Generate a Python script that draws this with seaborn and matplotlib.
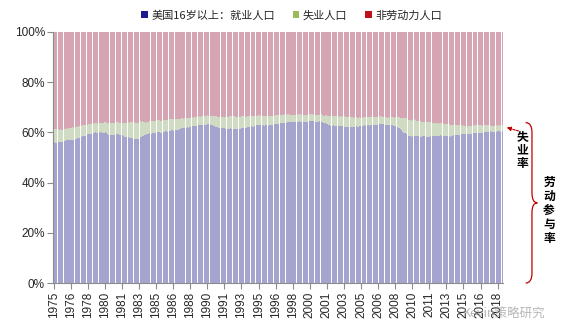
import numpy as np
import pandas as pd
import seaborn as sns
import matplotlib
matplotlib.use("Agg")
import matplotlib.pyplot as plt
from matplotlib.patches import Patch, PathPatch
from matplotlib.path import Path
from matplotlib.transforms import blended_transform_factory

# Monthly US civilian population 16+ : employment-population ratio (%), Jan 1975 - Nov 2018
employment_ratio = [
    56.0, 56.0, 55.9, 55.9, 56.0, 55.9, 56.1, 56.2, 56.2, 56.2, 56.2, 56.3,  # 1975
    56.4, 56.5, 56.7, 56.9, 56.8, 56.8, 56.9, 56.9, 56.8, 56.8, 56.9, 57.0,  # 1976
    57.0, 57.2, 57.4, 57.5, 57.6, 57.6, 57.6, 57.9, 58.0, 58.1, 58.5, 58.6,  # 1977
    58.6, 58.7, 58.8, 59.1, 59.2, 59.4, 59.3, 59.4, 59.5, 59.6, 59.8, 59.9,  # 1978
    59.9, 60.0, 59.9, 59.8, 59.9, 60.0, 60.0, 59.8, 60.0, 59.9, 59.9, 60.1,  # 1979
    59.9, 60.0, 59.7, 59.4, 59.1, 58.9, 58.9, 58.9, 58.9, 59.0, 59.0, 59.0,  # 1980
    59.1, 59.1, 59.3, 59.5, 59.5, 59.0, 59.1, 59.1, 58.7, 58.8, 58.6, 58.3,  # 1981
    58.2, 58.2, 58.1, 58.1, 58.2, 57.8, 57.9, 57.8, 57.6, 57.4, 57.3, 57.3,  # 1982
    57.2, 57.2, 57.3, 57.4, 57.4, 57.8, 58.1, 58.2, 58.4, 58.5, 58.8, 58.9,  # 1983
    59.1, 59.2, 59.2, 59.3, 59.6, 59.8, 59.5, 59.5, 59.7, 59.7, 59.8, 59.9,  # 1984
    60.0, 60.0, 60.2, 60.1, 60.0, 59.8, 59.9, 60.0, 60.2, 60.3, 60.3, 60.4,  # 1985
    60.6, 60.3, 60.5, 60.5, 60.5, 60.7, 60.8, 60.8, 60.7, 60.8, 60.9, 61.0,  # 1986
    61.0, 61.1, 61.1, 61.3, 61.6, 61.4, 61.6, 61.8, 61.6, 61.8, 61.8, 61.9,  # 1987
    61.9, 62.0, 61.9, 62.2, 62.0, 62.3, 62.3, 62.4, 62.4, 62.4, 62.6, 62.6,  # 1988
    62.9, 62.9, 62.9, 62.9, 62.9, 63.0, 63.0, 63.1, 62.9, 63.0, 63.0, 63.0,  # 1989
    63.2, 63.2, 63.2, 63.0, 63.1, 62.9, 62.8, 62.7, 62.5, 62.5, 62.3, 62.2,  # 1990
    62.0, 61.9, 61.8, 62.0, 61.7, 61.7, 61.6, 61.6, 61.7, 61.5, 61.5, 61.3,  # 1991
    61.5, 61.4, 61.5, 61.6, 61.5, 61.5, 61.6, 61.5, 61.4, 61.3, 61.4, 61.4,  # 1992
    61.4, 61.4, 61.5, 61.5, 61.6, 61.7, 61.8, 61.9, 61.7, 61.8, 61.9, 62.1,  # 1993
    62.2, 62.2, 62.1, 62.3, 62.5, 62.3, 62.3, 62.6, 62.7, 62.9, 63.1, 63.1,  # 1994
    63.0, 63.0, 63.1, 63.0, 62.7, 62.7, 62.8, 62.7, 62.9, 62.9, 62.8, 62.7,  # 1995
    62.7, 62.9, 62.9, 63.0, 63.0, 63.2, 63.3, 63.4, 63.4, 63.5, 63.4, 63.4,  # 1996
    63.4, 63.4, 63.6, 63.7, 63.8, 63.7, 63.9, 63.9, 63.9, 63.9, 64.1, 64.0,  # 1997
    64.0, 64.0, 63.9, 64.1, 64.1, 64.0, 64.0, 64.0, 64.2, 64.1, 64.2, 64.3,  # 1998
    64.4, 64.2, 64.2, 64.2, 64.3, 64.3, 64.2, 64.2, 64.2, 64.3, 64.4, 64.4,  # 1999
    64.6, 64.6, 64.6, 64.7, 64.4, 64.5, 64.2, 64.2, 64.2, 64.2, 64.3, 64.4,  # 2000
    64.4, 64.3, 64.3, 64.0, 63.8, 63.7, 63.7, 63.2, 63.5, 63.2, 63.0, 62.9,  # 2001
    62.7, 63.0, 62.8, 62.7, 62.9, 62.7, 62.7, 62.7, 63.0, 62.7, 62.5, 62.4,  # 2002
    62.5, 62.5, 62.4, 62.4, 62.3, 62.3, 62.1, 62.1, 62.0, 62.1, 62.3, 62.2,  # 2003
    62.3, 62.3, 62.2, 62.3, 62.3, 62.4, 62.5, 62.4, 62.3, 62.3, 62.5, 62.4,  # 2004
    62.4, 62.4, 62.4, 62.7, 62.8, 62.7, 62.8, 62.9, 62.8, 62.8, 62.7, 62.8,  # 2005
    62.9, 63.0, 63.1, 63.0, 63.1, 63.1, 63.0, 63.1, 63.1, 63.3, 63.3, 63.4,  # 2006
    63.3, 63.3, 63.3, 63.0, 63.0, 63.0, 62.9, 62.9, 62.9, 62.8, 62.9, 62.7,  # 2007
    62.9, 62.8, 62.7, 62.7, 62.5, 62.4, 62.2, 62.0, 61.9, 61.7, 61.4, 61.0,  # 2008
    60.6, 60.3, 59.9, 59.8, 59.6, 59.4, 59.3, 59.1, 58.7, 58.5, 58.6, 58.3,  # 2009
    58.5, 58.5, 58.5, 58.7, 58.6, 58.5, 58.5, 58.5, 58.5, 58.3, 58.3, 58.3,  # 2010
    58.4, 58.4, 58.4, 58.4, 58.4, 58.2, 58.2, 58.3, 58.3, 58.4, 58.5, 58.5,  # 2011
    58.4, 58.5, 58.5, 58.4, 58.5, 58.6, 58.5, 58.4, 58.7, 58.8, 58.7, 58.7,  # 2012
    58.6, 58.6, 58.5, 58.6, 58.6, 58.6, 58.7, 58.6, 58.6, 58.2, 58.6, 58.6,  # 2013
    58.8, 58.7, 58.8, 58.9, 58.9, 59.0, 59.0, 59.0, 59.1, 59.2, 59.2, 59.3,  # 2014
    59.3, 59.3, 59.3, 59.3, 59.4, 59.3, 59.3, 59.4, 59.2, 59.3, 59.4, 59.5,  # 2015
    59.6, 59.7, 59.8, 59.7, 59.7, 59.7, 59.8, 59.8, 59.8, 59.7, 59.7, 59.7,  # 2016
    59.9, 60.0, 60.1, 60.2, 60.0, 60.1, 60.2, 60.1, 60.4, 60.2, 60.1, 60.1,  # 2017
    60.1, 60.4, 60.4, 60.3, 60.4, 60.4, 60.5, 60.3, 60.4, 60.6, 60.6,        # 2018
]

# Monthly labor force participation rate (%), same months
participation_rate = [
    61.4, 61.3, 61.3, 61.3, 61.3, 61.0, 61.2, 61.1, 61.2, 61.1, 61.1, 61.2,  # 1975
    61.3, 61.2, 61.3, 61.6, 61.5, 61.6, 61.9, 61.9, 61.7, 61.8, 62.0, 61.9,  # 1976
    61.8, 62.0, 62.1, 62.2, 62.3, 62.4, 62.4, 62.4, 62.4, 62.4, 62.9, 62.8,  # 1977
    62.8, 62.9, 63.0, 63.1, 63.0, 63.3, 63.3, 63.3, 63.3, 63.3, 63.5, 63.5,  # 1978
    63.6, 63.8, 63.8, 63.5, 63.5, 63.6, 63.8, 63.8, 63.7, 63.7, 63.7, 63.9,  # 1979
    64.0, 64.0, 63.7, 63.8, 63.9, 63.7, 63.8, 63.7, 63.6, 63.7, 63.8, 63.6,  # 1980
    63.9, 63.9, 64.1, 64.2, 64.3, 63.7, 63.8, 63.8, 63.5, 63.8, 63.9, 63.6,  # 1981
    63.7, 63.8, 63.8, 63.9, 64.2, 63.9, 64.0, 64.1, 64.1, 64.1, 64.2, 64.1,  # 1982
    63.9, 63.8, 63.7, 63.8, 63.7, 64.3, 64.4, 64.3, 64.4, 64.0, 64.1, 64.1,  # 1983
    63.9, 64.1, 64.1, 64.3, 64.5, 64.6, 64.6, 64.4, 64.4, 64.4, 64.5, 64.6,  # 1984
    64.7, 64.7, 64.9, 64.9, 64.8, 64.6, 64.7, 64.6, 64.9, 65.0, 64.9, 65.0,  # 1985
    64.9, 65.0, 65.3, 65.3, 65.4, 65.4, 65.4, 65.3, 65.4, 65.4, 65.4, 65.3,  # 1986
    65.4, 65.5, 65.5, 65.4, 65.7, 65.5, 65.6, 65.9, 65.5, 65.7, 65.8, 65.7,  # 1987
    65.8, 65.9, 65.7, 65.8, 65.7, 65.8, 65.9, 66.1, 65.9, 66.0, 66.2, 66.1,  # 1988
    66.5, 66.3, 66.3, 66.4, 66.3, 66.5, 66.5, 66.5, 66.4, 66.5, 66.6, 66.5,  # 1989
    66.8, 66.7, 66.7, 66.6, 66.6, 66.4, 66.5, 66.5, 66.4, 66.4, 66.4, 66.4,  # 1990
    66.2, 66.2, 66.3, 66.4, 66.2, 66.2, 66.1, 66.0, 66.2, 66.1, 66.1, 66.0,  # 1991
    66.3, 66.2, 66.4, 66.5, 66.6, 66.7, 66.7, 66.6, 66.5, 66.2, 66.3, 66.3,  # 1992
    66.2, 66.2, 66.2, 66.1, 66.4, 66.5, 66.4, 66.4, 66.2, 66.3, 66.3, 66.4,  # 1993
    66.6, 66.6, 66.5, 66.5, 66.6, 66.4, 66.4, 66.6, 66.6, 66.7, 66.7, 66.7,  # 1994
    66.8, 66.8, 66.7, 66.9, 66.5, 66.5, 66.6, 66.6, 66.6, 66.6, 66.5, 66.4,  # 1995
    66.4, 66.6, 66.6, 66.7, 66.7, 66.7, 66.9, 66.7, 66.9, 67.0, 67.0, 67.0,  # 1996
    67.0, 66.9, 67.1, 67.1, 67.1, 67.1, 67.2, 67.1, 67.1, 67.1, 67.2, 67.2,  # 1997
    67.1, 67.1, 67.1, 67.0, 67.0, 67.0, 66.9, 67.0, 67.2, 67.1, 67.1, 67.2,  # 1998
    67.2, 67.2, 67.0, 67.1, 67.1, 67.1, 67.0, 67.0, 67.0, 67.0, 67.1, 67.1,  # 1999
    67.3, 67.3, 67.3, 67.3, 67.1, 67.1, 66.9, 66.9, 66.9, 66.8, 66.9, 67.0,  # 2000
    67.2, 67.1, 67.2, 66.9, 66.7, 66.7, 66.8, 66.5, 66.8, 66.7, 66.7, 66.7,  # 2001
    66.5, 66.8, 66.6, 66.7, 66.7, 66.6, 66.5, 66.6, 66.7, 66.6, 66.4, 66.3,  # 2002
    66.4, 66.4, 66.3, 66.4, 66.4, 66.5, 66.2, 66.1, 66.1, 66.1, 66.1, 65.9,  # 2003
    66.1, 66.0, 66.0, 65.9, 66.0, 66.1, 66.1, 66.0, 65.8, 65.9, 66.0, 65.9,  # 2004
    65.8, 65.9, 65.9, 66.1, 66.1, 66.1, 66.1, 66.2, 66.1, 66.1, 66.0, 66.0,  # 2005
    66.0, 66.1, 66.2, 66.1, 66.1, 66.2, 66.1, 66.2, 66.1, 66.2, 66.3, 66.4,  # 2006
    66.4, 66.3, 66.2, 65.9, 66.0, 66.0, 66.0, 65.8, 66.0, 65.8, 66.0, 66.0,  # 2007
    66.2, 66.0, 66.1, 65.9, 66.1, 66.1, 66.1, 66.1, 66.0, 66.0, 65.9, 65.8,  # 2008
    65.7, 65.8, 65.6, 65.7, 65.7, 65.7, 65.5, 65.4, 65.1, 65.0, 65.0, 64.6,  # 2009
    64.8, 64.9, 64.9, 65.2, 64.9, 64.6, 64.6, 64.7, 64.6, 64.4, 64.6, 64.3,  # 2010
    64.2, 64.1, 64.2, 64.2, 64.1, 64.0, 64.0, 64.1, 64.2, 64.1, 64.1, 64.0,  # 2011
    63.7, 63.8, 63.8, 63.7, 63.8, 63.8, 63.7, 63.5, 63.6, 63.8, 63.6, 63.7,  # 2012
    63.6, 63.4, 63.3, 63.4, 63.4, 63.4, 63.4, 63.3, 63.2, 62.8, 63.0, 62.9,  # 2013
    62.9, 62.9, 63.1, 62.8, 62.9, 62.8, 62.9, 62.9, 62.8, 62.9, 62.9, 62.7,  # 2014
    62.9, 62.7, 62.7, 62.7, 62.8, 62.6, 62.6, 62.6, 62.4, 62.5, 62.5, 62.7,  # 2015
    62.7, 62.8, 63.0, 62.8, 62.7, 62.7, 62.8, 62.8, 62.9, 62.8, 62.7, 62.7,  # 2016
    62.9, 62.9, 63.0, 62.9, 62.8, 62.8, 62.9, 62.9, 63.1, 62.7, 62.7, 62.7,  # 2017
    62.7, 63.0, 62.9, 62.8, 62.7, 62.9, 62.9, 62.7, 62.7, 62.9, 62.9,        # 2018
]

series_labels = ["美国16岁以上：就业人口", "失业人口", "非劳动力人口"]
legend_colors = ["#1F1A8A", "#9BBB59", "#C0101A"]
bar_colors = ["#A4A4CF", "#CFDCC3", "#D5A5B3"]

months = pd.date_range("1975-01-01", periods=len(employment_ratio), freq="MS")
df = pd.DataFrame({
    "pos": np.arange(len(months)),
    "employed": employment_ratio,
    "labor_force": participation_rate,
})
df["total"] = 100.0

sns.set_theme(style="white")
plt.rcParams["font.family"] = ["Liberation Sans", "Noto Sans CJK SC", "DejaVu Sans"]

fig = plt.figure(figsize=(5.66, 3.33), dpi=100)
ax = fig.add_axes([0.094, 0.150, 0.795, 0.754])

# Stacked 100% bars: full height (not in labor force), labor force (unemployed), employed
for col, color in zip(["total", "labor_force", "employed"], bar_colors[::-1]):
    sns.barplot(data=df, x="pos", y=col, color=color, saturation=1, width=0.85,
                linewidth=0, errorbar=None, ax=ax)

ax.set_ylim(0, 100)
ax.set_xlim(-0.5, len(df) - 0.5)
ax.set_yticks(np.arange(0, 101, 20))
ax.set_yticklabels([f"{v}%" for v in range(0, 101, 20)], fontsize=8.5)

tick_pos = np.arange(0, len(df), 20)
ax.set_xticks(tick_pos)
ax.set_xticklabels([str(months[i].year) for i in tick_pos], rotation=90, fontsize=8.5)
ax.set_xlabel("")
ax.set_ylabel("")

for side in ["top", "right"]:
    ax.spines[side].set_visible(False)
for side in ["left", "bottom"]:
    ax.spines[side].set_color("#8C8C8C")
    ax.spines[side].set_linewidth(0.8)
ax.tick_params(axis="both", which="major", length=4, width=0.8, color="#8C8C8C",
               direction="out", pad=2, left=True, bottom=True)

handles = [Patch(facecolor=c, edgecolor="none") for c in legend_colors]
fig.legend(handles, series_labels, loc="upper center", bbox_to_anchor=(0.515, 1.0),
           ncol=3, frameon=False, handlelength=0.6, handleheight=0.6,
           handletextpad=0.3, columnspacing=1.6,
           prop={"family": ["Noto Sans CJK SC", "DejaVu Sans"], "size": 8})

# Annotation: unemployment rate arrow and labor-force-participation brace
last_lf = participation_rate[-1]
last_emp = employment_ratio[-1]
trans = blended_transform_factory(ax.transAxes, ax.transData)
cjk_bold = {"family": ["Noto Sans CJK SC", "DejaVu Sans"], "weight": "bold"}

ax.annotate("", xy=(1.002, (last_lf + last_emp) / 2 + 0.5), xycoords=trans,
            xytext=(1.040, (last_lf + last_emp) / 2 - 1.5), textcoords=trans,
            arrowprops=dict(arrowstyle="-|>", color="#C00000", lw=0.8,
                            linestyle=(0, (2, 1)), mutation_scale=6))
ax.text(1.030, 53, "失\n业\n率", transform=trans, ha="left", va="center",
        fontsize=8.5, linespacing=1.05, color="black", **cjk_bold)

y1, y0 = last_lf + 1.0, 0.0
ym = (y0 + y1) / 2
d = 4.0
xl, xs, xt = 1.050, 1.064, 1.076
verts = [
    (xl, y1), (xs, y1), (xs, y1 - d),
    (xs, ym + d),
    (xs, ym), (xt, ym),
    (xs, ym), (xs, ym - d),
    (xs, y0 + d),
    (xs, y0), (xl, y0),
]
codes = [Path.MOVETO, Path.CURVE3, Path.CURVE3, Path.LINETO,
         Path.CURVE3, Path.CURVE3, Path.CURVE3, Path.CURVE3,
         Path.LINETO, Path.CURVE3, Path.CURVE3]
brace = PathPatch(Path(verts, codes), transform=trans, facecolor="none",
                  edgecolor="#C00000", lw=0.9, clip_on=False)
ax.add_patch(brace)
ax.text(1.102, ym - 3, "劳\n动\n参\n与\n率", transform=trans, ha="center", va="center",
        fontsize=8.5, linespacing=1.1, color="black", **cjk_bold)

fig.text(0.963, 0.055, "Kevin策略研究", ha="right", va="center", fontsize=9,
         color="#9A9A9A", alpha=0.7, family=["Noto Sans CJK SC", "DejaVu Sans"])

fig.savefig("out.png", dpi=100)
